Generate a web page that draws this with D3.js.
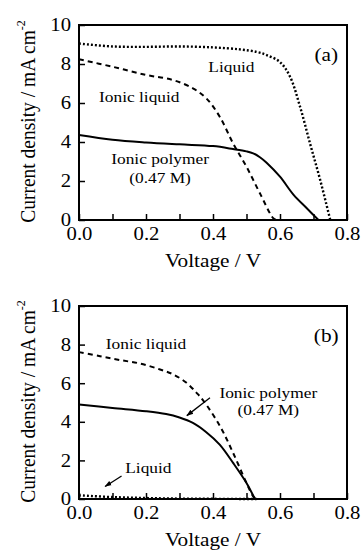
<!DOCTYPE html>
<html><head><meta charset="utf-8">
<script src="https://cdn.jsdelivr.net/npm/d3@7"></script>
<style>
html,body{margin:0;padding:0;background:#fff;}
svg{display:block;font-family:"Liberation Serif","Times New Roman",serif;}
</style></head>
<body>
<svg id="c" width="361" height="552"></svg>
<script>
// ---- Data ----
const xTicks = [0.0, 0.2, 0.4, 0.6, 0.8];
const xMinor = [0.1, 0.3, 0.5, 0.7];
const yTicks = [0, 2, 4, 6, 8, 10];

// Panel (a)
const aLiquidV   = [0, 0.1, 0.2, 0.3, 0.4, 0.48, 0.53, 0.56, 0.6, 0.63, 0.66, 0.69, 0.72, 0.75];
const aLiquidJ   = [9.05, 8.9, 8.88, 8.9, 8.85, 8.75, 8.62, 8.46, 8.1, 7.35, 5.8, 3.9, 2.05, 0];
const aIonicLiqV = [0, 0.1, 0.2, 0.28, 0.34, 0.38, 0.42, 0.46, 0.5, 0.54, 0.58, 0.59];
const aIonicLiqJ = [8.24, 7.86, 7.44, 7.18, 6.75, 6.24, 5.3, 3.93, 2.73, 1.37, 0.09, 0];
const aPolymerV  = [0, 0.1, 0.2, 0.3, 0.4, 0.46, 0.5, 0.52, 0.54, 0.56, 0.6, 0.64, 0.68, 0.715];
const aPolymerJ  = [4.36, 4.12, 3.98, 3.88, 3.79, 3.64, 3.52, 3.42, 3.22, 2.94, 2.22, 1.3, 0.6, 0];

// Panel (b)
const bLiquidV   = [0, 0.1, 0.2, 0.3, 0.4, 0.53];
const bLiquidJ   = [0.19, 0.1, 0.05, 0.02, 0.01, 0];
const bIonicLiqV = [0, 0.063, 0.122, 0.182, 0.242, 0.282, 0.321, 0.351, 0.371, 0.421, 0.46, 0.5, 0.52, 0.53];
const bIonicLiqJ = [7.61, 7.4, 7.2, 7.02, 6.71, 6.45, 6.02, 5.5, 5.1, 3.77, 2.39, 0.83, 0.14, 0];
const bPolymerV  = [0, 0.1, 0.2, 0.26, 0.3, 0.34, 0.38, 0.42, 0.46, 0.5, 0.525];
const bPolymerJ  = [4.9, 4.72, 4.55, 4.4, 4.22, 3.94, 3.46, 2.82, 1.87, 0.83, 0];

const seriesStyles = {
  liquid: {dash: "2,2", width: 2.4},
  ionic: {dash: "5,4", width: 2},
  polymer: {dash: null, width: 2}
};

const panels = [
  {
    top: 25, bottom: 220, label: "(a)", labelJ: 8.5,
    series: [
      {key: "liquid", v: aLiquidV, j: aLiquidJ},
      {key: "ionic", v: aIonicLiqV, j: aIonicLiqJ},
      {key: "polymer", v: aPolymerV, j: aPolymerJ}
    ],
    notes: [
      {t: "Liquid", x: 0.455, y: 7.6},
      {t: "Ionic liquid", x: 0.18, y: 6.05},
      {t: "Ionic polymer", x: 0.242, y: 2.85},
      {t: "(0.47 M)", x: 0.242, y: 1.9}
    ],
    arrows: []
  },
  {
    top: 306, bottom: 499, label: "(b)", labelJ: 8.5,
    series: [
      {key: "liquid", v: bLiquidV, j: bLiquidJ},
      {key: "ionic", v: bIonicLiqV, j: bIonicLiqJ},
      {key: "polymer", v: bPolymerV, j: bPolymerJ}
    ],
    notes: [
      {t: "Ionic liquid", x: 0.2, y: 7.75},
      {t: "Ionic polymer", x: 0.565, y: 5.25},
      {t: "(0.47 M)", x: 0.565, y: 4.35},
      {t: "Liquid", x: 0.207, y: 1.35}
    ],
    arrows: [
      {x1: 0.391, y1: 5.25, x2: 0.322, y2: 4.32},
      {x1: 0.127, y1: 1.19, x2: 0.078, y2: 0.65}
    ]
  }
];

const SX = 1.12; // horizontal stretch of the reference glyphs
function stretch(sel) {
  sel.each(function () {
    const t = d3.select(this);
    const x = +t.attr("x") || 0, y = +t.attr("y") || 0;
    t.attr("x", 0).attr("y", 0).attr("transform", `translate(${x},${y}) scale(${SX},1)`);
  });
}

const svg = d3.select("#c");
const defs = svg.append("defs");
defs.append("marker").attr("id", "ah").attr("viewBox", "0 0 10 10")
  .attr("refX", 9).attr("refY", 5).attr("markerWidth", 5.5).attr("markerHeight", 5.5)
  .attr("markerUnits", "strokeWidth").attr("orient", "auto")
  .append("path").attr("d", "M0,1.5 L10,5 L0,8.5 Z").attr("fill", "#000");

const left = 79, right = 347;

panels.forEach(p => {
  const x = d3.scaleLinear().domain([0, 0.8]).range([left, right]);
  const y = d3.scaleLinear().domain([0, 10]).range([p.bottom, p.top]);
  const g = svg.append("g");

  // series
  const line = d3.line().x(d => x(d[0])).y(d => y(d[1])).curve(d3.curveCatmullRom.alpha(0.5));
  p.series.forEach(s => {
    const pts = s.v.map((v, i) => [v, s.j[i]]);
    g.append("path").attr("d", line(pts)).attr("fill", "none")
      .attr("stroke", "#000").attr("stroke-width", seriesStyles[s.key].width)
      .attr("stroke-dasharray", seriesStyles[s.key].dash);
  });

  // frame
  g.append("rect").attr("x", left).attr("y", p.top)
    .attr("width", right - left).attr("height", p.bottom - p.top)
    .attr("fill", "none").attr("stroke", "#000").attr("stroke-width", 2);

  // x axis
  const xa = g.append("g").attr("transform", `translate(0,${p.bottom})`)
    .call(d3.axisBottom(x).tickValues(xTicks).tickFormat(d3.format(".1f")).tickSizeInner(-6).tickSizeOuter(0).tickPadding(7));
  xa.select(".domain").remove();
  xa.selectAll("line").attr("stroke-width", 1.5);
  xa.selectAll("text").attr("font-size", 18.5).attr("font-family", "Liberation Serif").attr("fill", "#000").call(stretch);
  g.append("g").attr("transform", `translate(0,${p.bottom})`)
    .call(d3.axisBottom(x).tickValues(xMinor).tickFormat("").tickSizeInner(-6).tickSizeOuter(0))
    .call(a => a.select(".domain").remove())
    .selectAll("line").attr("stroke-width", 1.5);

  // y axis
  const ya = g.append("g").attr("transform", `translate(${left},0)`)
    .call(d3.axisLeft(y).tickValues(yTicks).tickFormat(d3.format("d")).tickSizeInner(-6).tickSizeOuter(0).tickPadding(8));
  ya.select(".domain").remove();
  ya.selectAll("line").attr("stroke-width", 1.5);
  ya.selectAll("text").attr("font-size", 18.5).attr("font-family", "Liberation Serif").attr("fill", "#000").call(stretch);

  // axis titles
  g.append("text").attr("x", (left + right) / 2 + 0).attr("y", p.bottom + 47)
    .attr("text-anchor", "middle").attr("font-size", 19).text("Voltage / V").call(stretch);
  const cy = (p.top + p.bottom) / 2 - 1;
  const yt = g.append("text").attr("transform", `translate(35,${cy}) rotate(-90) scale(1,${SX})`)
    .attr("text-anchor", "middle").attr("font-size", 19.5);
  yt.append("tspan").text("Current density / mA cm");
  yt.append("tspan").attr("dy", -9).attr("font-size", 12).text("-2");

  // panel label
  g.append("text").attr("x", x(0.738)).attr("y", y(p.labelJ) + 7)
    .attr("text-anchor", "middle").attr("font-size", 19).text(p.label).call(stretch);

  // notes
  p.notes.forEach(n => {
    g.append("text").attr("x", x(n.x)).attr("y", y(n.y)).attr("text-anchor", "middle")
      .attr("font-size", 15.5).text(n.t).call(stretch);
  });
  p.arrows.forEach(a => {
    g.append("line").attr("x1", x(a.x1)).attr("y1", y(a.y1)).attr("x2", x(a.x2)).attr("y2", y(a.y2))
      .attr("stroke", "#000").attr("stroke-width", 1.3).attr("marker-end", "url(#ah)");
  });
});
</script>
</body></html>
